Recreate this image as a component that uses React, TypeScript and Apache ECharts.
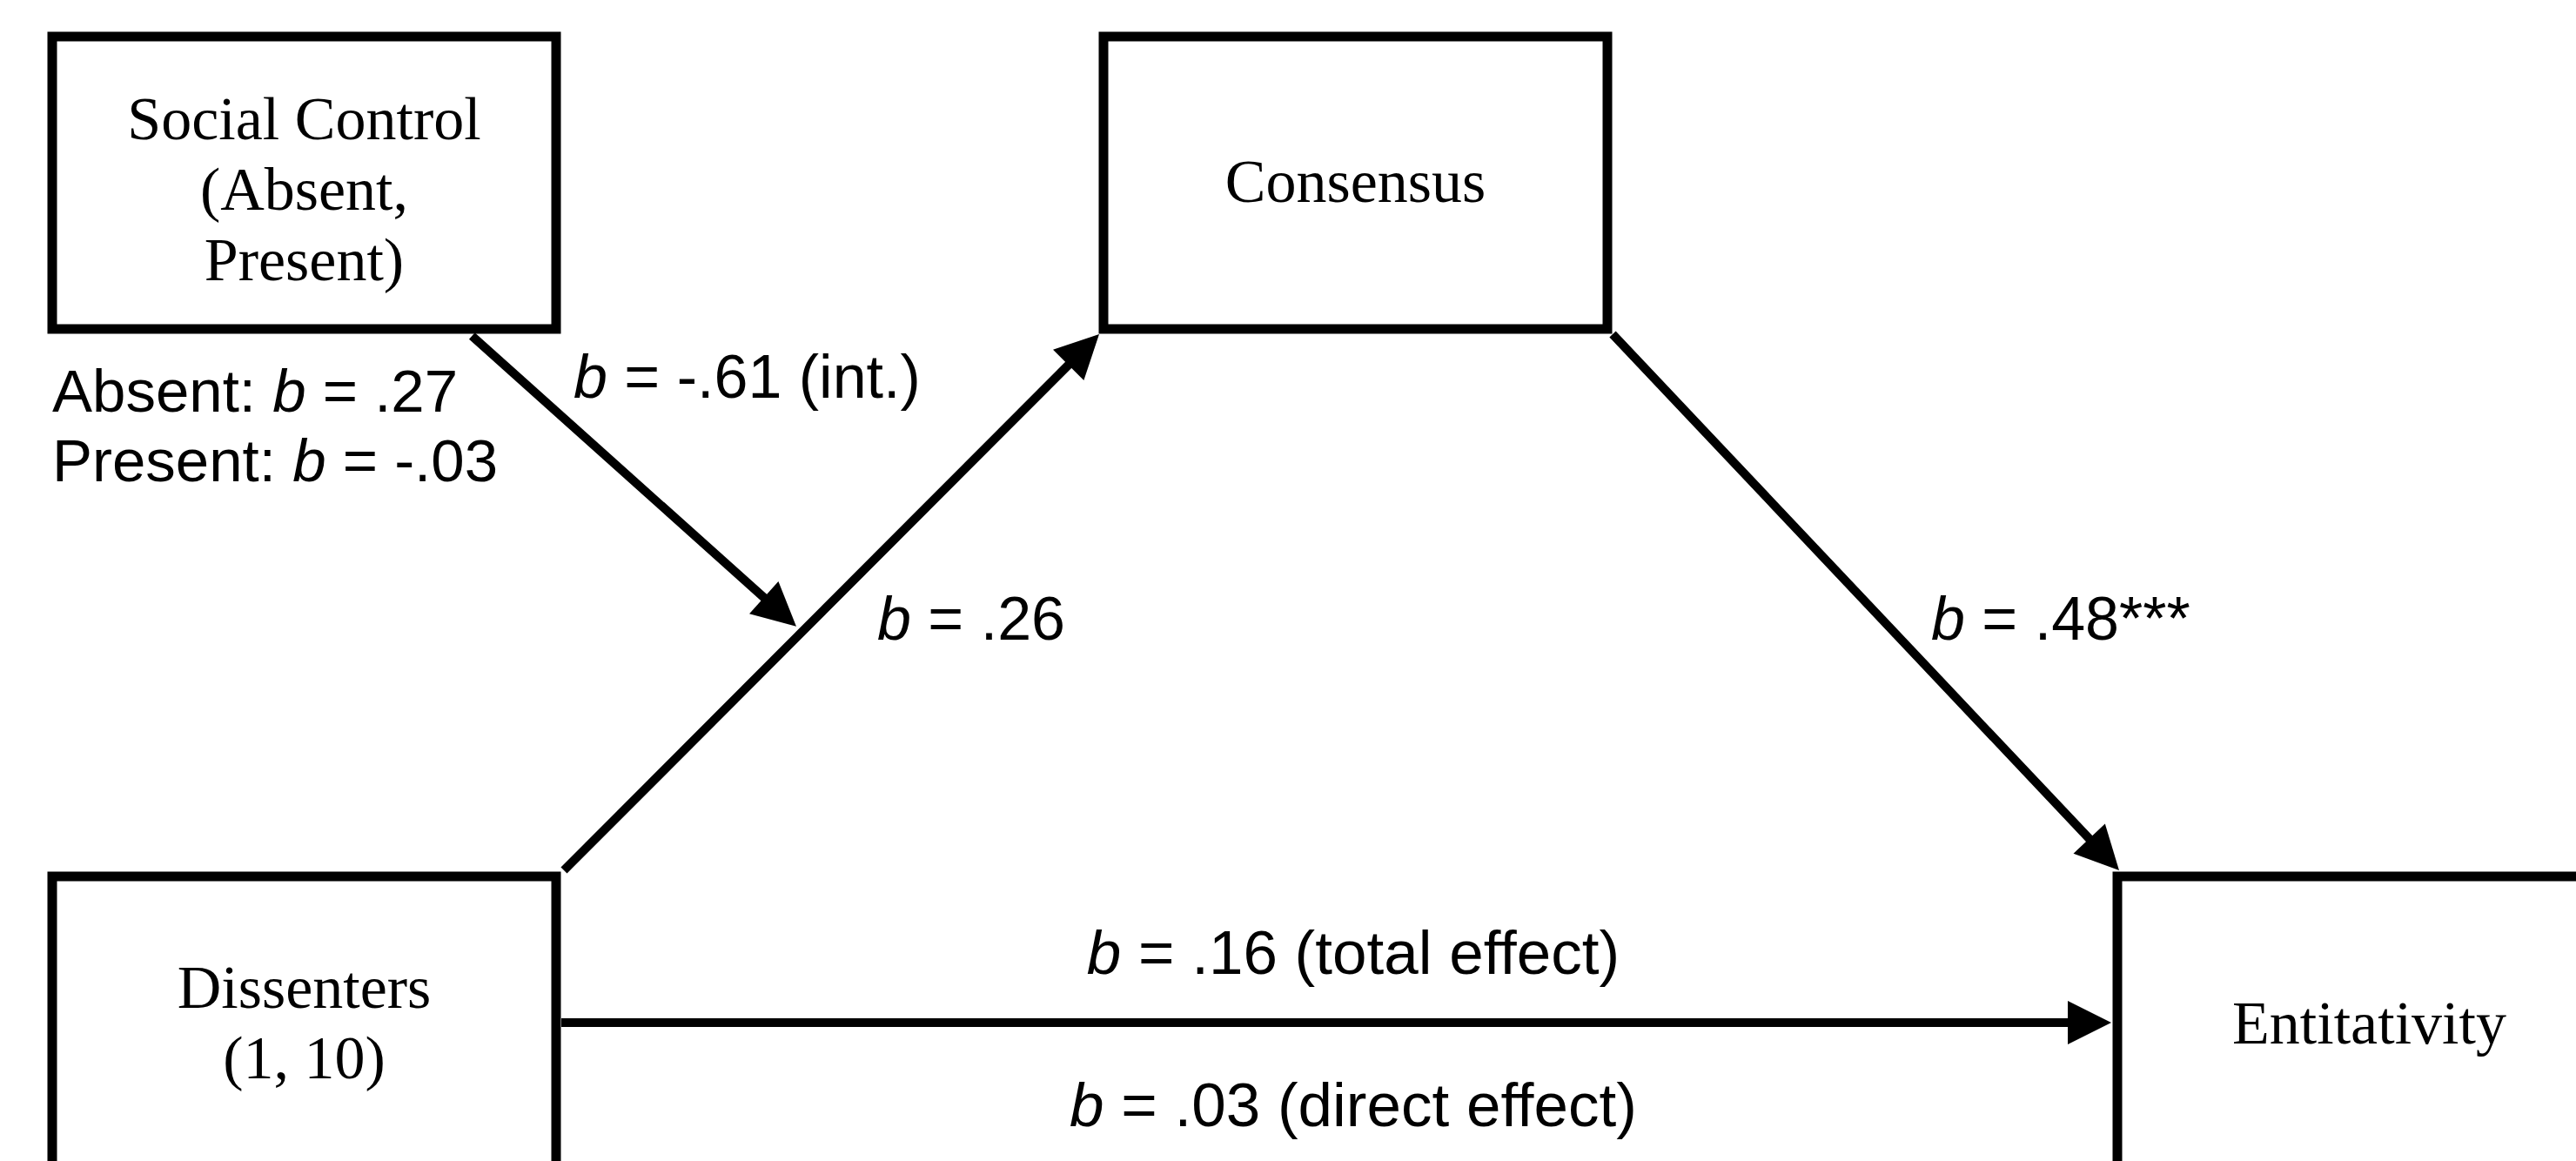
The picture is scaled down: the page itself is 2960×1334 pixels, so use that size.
import React, { useEffect, useRef } from "react";
import * as echarts from "echarts";

// ---------------- content ----------------
const nodeLabels = [
  "Social Control\n(Absent,\nPresent)",
  "Consensus",
  "Dissenters\n(1, 10)",
  "Entitativity",
];
// paths: Dissenters -> Consensus (a), Consensus -> Entitativity (b), Dissenters -> Entitativity (c)
const pathFrom = [2, 1, 2];
const pathTo = [1, 3, 3];
const pathCoef = [0.26, 0.48, 0.16];
const pathStars = ["", "***", ""];
const pathNote = ["", "", "total effect"];
const directCoef = 0.03;
const directNote = "direct effect";
const interactionCoef = -0.61;
const interactionNote = "int.";
const slopeGroups = ["Absent", "Present"];
const slopeCoef = [0.27, -0.03];

// ---------------- layout (diagram units on a 2960 x 1334 canvas) ----------------
const CANVAS_W = 2960;
const CANVAS_H = 1334;
const nodeX = [349.5, 1557.5, 349.5, 2722.5];
const nodeY = [210, 210, 1175, 1175];
const nodeTextDy = [7, -2, 0, 0];
const BOX_W = 579;
const BOX_H = 336;
const pathFromAnchor = [[1, -1], [1, 1], [1, 0]];
const pathToAnchor = [[-1, 1], [-1, -1], [-1, 0]];
const pathFromGap = [[9, -7], [6, 6], [6, 0]];
const pathToGap = [[-5, 6], [2, -7], [-7, 0]];
const interactionStartFrac = 0.333; // from the moderator box centre, along its bottom edge
const interactionStartGap = 8;
const interactionHitT = 0.445; // position along path a
const interactionTipGap = 9;
// labels: a, b, total, direct, interaction, slope1, slope2
const labelX = [1008, 2219, 1555, 1555, 659, 60, 60];
const labelY = [711, 711, 1094, 1269, 433, 449, 529];
const labelAlign = ["left", "left", "center", "center", "left", "left", "left"];
const labelSize = [70, 70, 71, 71, 70, 69, 69];

const SERIF = "'Liberation Serif', 'Times New Roman', serif";
const SANS = "'Liberation Sans', Arial, Helvetica, sans-serif";

const fmt = (v: number) =>
  (v < 0 ? "-" : "") + Math.abs(v).toFixed(2).replace(/^0/, "");

function anchor(i: number, a: number[], g: number[]) {
  return [nodeX[i] + (a[0] * BOX_W) / 2 + g[0], nodeY[i] + (a[1] * BOX_H) / 2 + g[1]];
}

// derived arrow segments [x1, y1, x2, y2]
const pathSegments = pathFrom.map((f, k) => {
  const s = anchor(f, pathFromAnchor[k], pathFromGap[k]);
  const e = anchor(pathTo[k], pathToAnchor[k], pathToGap[k]);
  return [s[0], s[1], e[0], e[1]];
});
const interactionSegment = (() => {
  const a = pathSegments[0];
  const hx = a[0] + (a[2] - a[0]) * interactionHitT;
  const hy = a[1] + (a[3] - a[1]) * interactionHitT;
  const startX = nodeX[0] + interactionStartFrac * BOX_W;
  const startY = nodeY[0] + BOX_H / 2 + interactionStartGap;
  const dx = hx - startX;
  const dy = hy - startY;
  const len = Math.hypot(dx, dy);
  return [startX, startY, hx - (dx / len) * interactionTipGap, hy - (dy / len) * interactionTipGap];
})();
const arrowData = [...pathSegments, interactionSegment];

const labelTexts = [
  `{i|b} = ${fmt(pathCoef[0])}${pathStars[0]}`,
  `{i|b} = ${fmt(pathCoef[1])}${pathStars[1]}`,
  `{i|b} = ${fmt(pathCoef[2])} (${pathNote[2]})`,
  `{i|b} = ${fmt(directCoef)} (${directNote})`,
  `{i|b} = ${fmt(interactionCoef)} (${interactionNote})`,
  `${slopeGroups[0]}: {i|b} = ${fmt(slopeCoef[0])}`,
  `${slopeGroups[1]}: {i|b} = ${fmt(slopeCoef[1])}`,
];

const HEAD_L = 50;
const HEAD_HW = 25;

export default function App() {
  const ref = useRef<HTMLDivElement>(null);
  useEffect(() => {
    if (!ref.current) return;
    const chart = echarts.init(ref.current, undefined, { renderer: "svg" });
    const option: any = {
      animation: false,
      backgroundColor: "#ffffff",
      grid: { left: 0, right: 0, top: 0, bottom: 0 },
      xAxis: { type: "value", min: 0, max: CANVAS_W, show: false },
      yAxis: { type: "value", min: 0, max: CANVAS_H, inverse: true, show: false },
      series: [
        {
          type: "custom",
          name: "variables",
          coordinateSystem: "cartesian2d",
          clip: false,
          silent: true,
          data: nodeX.map((x, i) => [x, nodeY[i]]),
          encode: { x: 0, y: 1 },
          renderItem: (params: any, api: any) => {
            const i = params.dataIndex;
            const cx = api.value(0);
            const cy = api.value(1);
            const p0 = api.coord([cx - BOX_W / 2, cy - BOX_H / 2]);
            const p1 = api.coord([cx + BOX_W / 2, cy + BOX_H / 2]);
            const c = api.coord([cx, cy + nodeTextDy[i]]);
            return {
              type: "group",
              children: [
                {
                  type: "rect",
                  shape: {
                    x: Math.min(p0[0], p1[0]),
                    y: Math.min(p0[1], p1[1]),
                    width: Math.abs(p1[0] - p0[0]),
                    height: Math.abs(p1[1] - p0[1]),
                  },
                  style: { fill: "#ffffff", stroke: "#000000", lineWidth: 11, lineJoin: "miter" },
                },
                {
                  type: "text",
                  style: {
                    text: nodeLabels[i],
                    x: c[0],
                    y: c[1],
                    align: "center",
                    verticalAlign: "middle",
                    fontFamily: SERIF,
                    fontSize: 70,
                    lineHeight: 81,
                    fill: "#000000",
                  },
                },
              ],
            };
          },
        },
        {
          type: "custom",
          name: "paths",
          coordinateSystem: "cartesian2d",
          clip: false,
          silent: true,
          data: arrowData,
          encode: { x: [0, 2], y: [1, 3] },
          renderItem: (params: any, api: any) => {
            const s = api.coord([api.value(0), api.value(1)]);
            const t = api.coord([api.value(2), api.value(3)]);
            const dx = t[0] - s[0];
            const dy = t[1] - s[1];
            const len = Math.hypot(dx, dy);
            const ux = dx / len;
            const uy = dy / len;
            const nx = -uy;
            const ny = ux;
            const bx = t[0] - ux * HEAD_L;
            const by = t[1] - uy * HEAD_L;
            return {
              type: "group",
              children: [
                {
                  type: "line",
                  shape: { x1: s[0], y1: s[1], x2: bx + ux * 6, y2: by + uy * 6 },
                  style: { stroke: "#000000", lineWidth: 10, lineCap: "butt" },
                },
                {
                  type: "polygon",
                  shape: {
                    points: [
                      [t[0], t[1]],
                      [bx + nx * HEAD_HW, by + ny * HEAD_HW],
                      [bx - nx * HEAD_HW, by - ny * HEAD_HW],
                    ],
                  },
                  style: { fill: "#000000" },
                },
              ],
            };
          },
        },
        {
          type: "custom",
          name: "coefficients",
          coordinateSystem: "cartesian2d",
          clip: false,
          silent: true,
          data: labelX.map((x, i) => [x, labelY[i]]),
          encode: { x: 0, y: 1 },
          renderItem: (params: any, api: any) => {
            const i = params.dataIndex;
            const p = api.coord([api.value(0), api.value(1)]);
            return {
              type: "text",
              style: {
                text: labelTexts[i],
                x: p[0],
                y: p[1],
                align: labelAlign[i],
                verticalAlign: "middle",
                fontFamily: SANS,
                fontSize: labelSize[i],
                fill: "#000000",
                rich: {
                  i: { fontStyle: "italic", fontFamily: SANS, fontSize: labelSize[i], fill: "#000000" },
                },
              },
            };
          },
        },
      ],
    };
    chart.setOption(option);
    return () => chart.dispose();
  }, []);
  return (
    <div
      ref={ref}
      style={{ position: "fixed", left: 0, top: 0, width: CANVAS_W, height: CANVAS_H, background: "#fff" }}
    />
  );
}
